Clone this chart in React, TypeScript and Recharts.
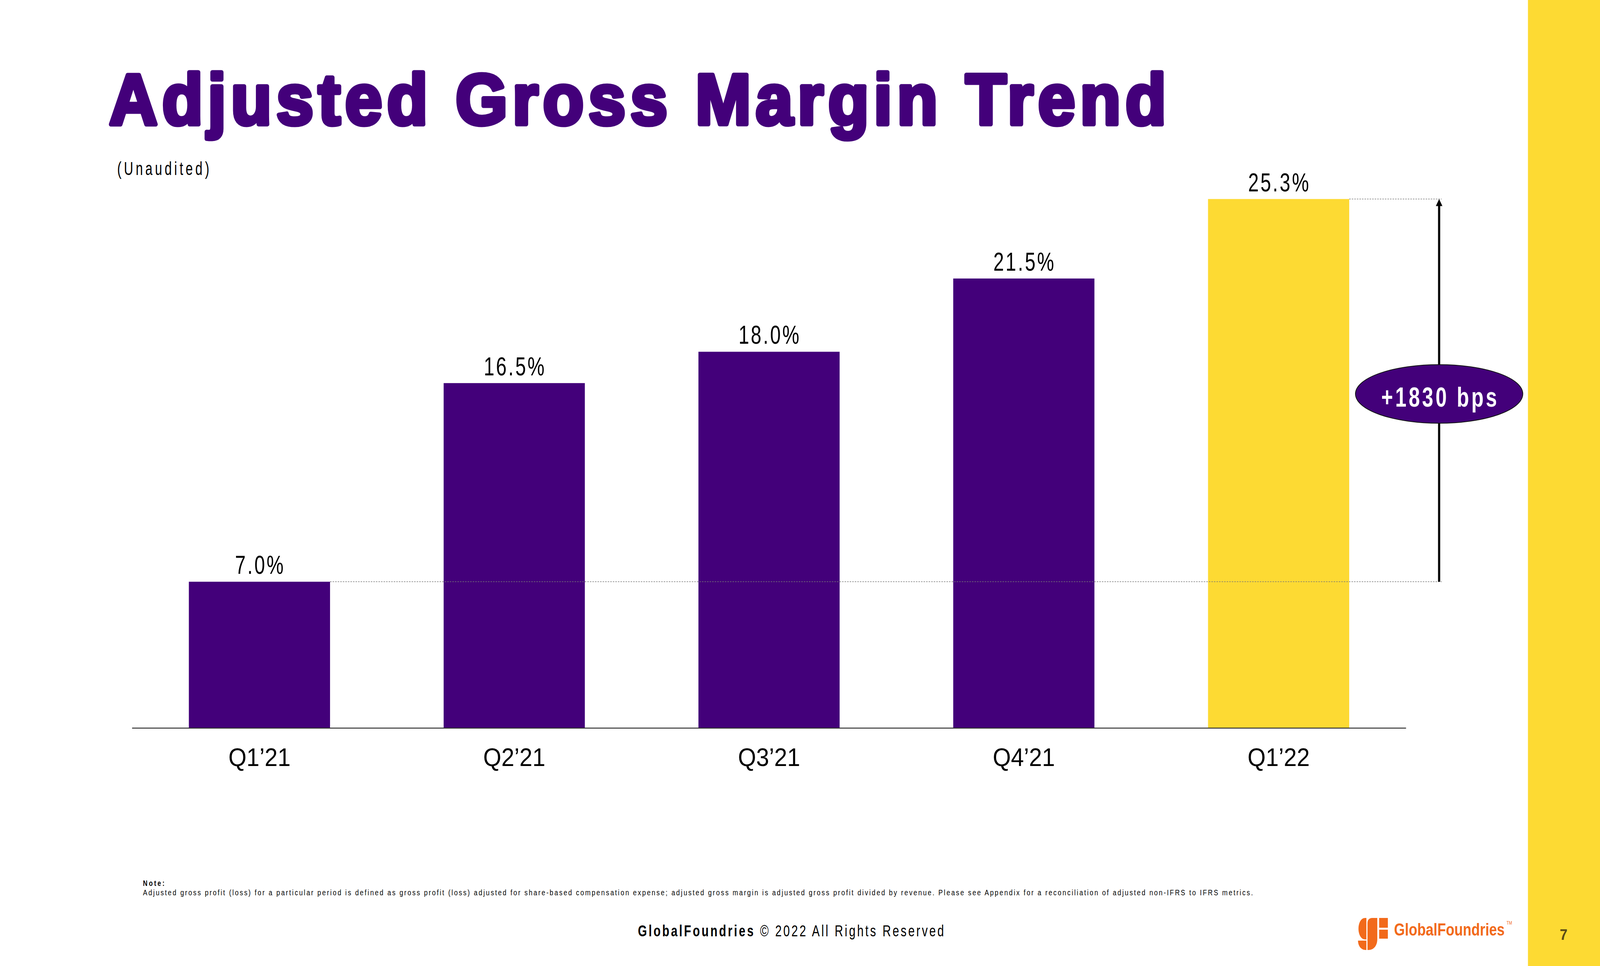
import { Bar, BarChart, Cell, LabelList, ReferenceLine, XAxis, YAxis } from "recharts";

const quarters = ["Q1’21", "Q2’21", "Q3’21", "Q4’21", "Q1’22"];
const grossMargin = [7.0, 16.5, 18.0, 21.5, 25.3];
const highlight = [false, false, false, false, true];
const changeLabel = "+1830 bps";

const data = quarters.map((quarter, i) => ({ quarter, margin: grossMargin[i] }));

const W = 4397;
const H = 2473;
const PURPLE = "#43007a";
const YELLOW = "#fdda33";
const ORANGE = "#f26a1b";
const FONT = "'Liberation Sans', Arial, sans-serif";
const BAR = 388;
const ARROW_DX = 441; // arrow sits this far right of the last bar's centre

// condensed, letter-spaced text (the slide uses a narrow face)
function CondText({ x, y, width, sx = 0.78, anchor = "start", children, ...rest }: any) {
  return (
    <text
      transform={`translate(${x} ${y}) scale(${sx} 1)`}
      textAnchor={anchor}
      textLength={width / sx}
      lengthAdjust="spacing"
      fontFamily={FONT}
      {...rest}
    >
      {children}
    </text>
  );
}

function ValueLabel(props: any) {
  const { x, y, width, value } = props;
  const cx = Number(x) + Number(width) / 2;
  return (
    <text
      transform={`translate(${cx + 2} ${Number(y) - 20}) scale(0.78 1)`}
      textAnchor="middle"
      fontSize={67}
      fontFamily={FONT}
      fill="#000"
      letterSpacing={6}
    >
      {Number(value).toFixed(1)}%
    </text>
  );
}

function QuarterTick(props: any) {
  const { x, y, payload } = props;
  return (
    <text x={x} y={y} dy={97} textAnchor="middle" fontSize={64} fontFamily={FONT} fill="#000">
      {payload.value}
    </text>
  );
}

function BaseLine(props: any) {
  const { x1, x2, y1 } = props;
  return (
    <line
      x1={x1 + BAR / 2}
      x2={x2 + ARROW_DX + 7}
      y1={y1}
      y2={y1}
      stroke="#777"
      strokeWidth={1.5}
      strokeDasharray="4 3"
    />
  );
}

function ChangeArrow(props: any) {
  const { x1, y1, y2 } = props;
  const ax = x1 + ARROW_DX;
  const mid = (y1 + y2) / 2 + 9;
  return (
    <g>
      <line x1={x1 + BAR / 2} x2={ax + 7} y1={y2} y2={y2} stroke="#777" strokeWidth={1.5} strokeDasharray="4 3" />
      <line x1={ax} x2={ax} y1={y1} y2={y2 + 16} stroke="#000" strokeWidth={6} />
      <polygon points={`${ax - 9},${y2 + 18} ${ax + 9},${y2 + 18} ${ax},${y2}`} fill="#000" />
      <ellipse cx={ax} cy={mid} rx={230} ry={75} fill={PURPLE} stroke="#111" strokeWidth={2} />
      <CondText x={ax} y={mid + 33} width={318} anchor="middle" fontSize={71} fontWeight={700} fill="#fff">
        {changeLabel}
      </CondText>
    </g>
  );
}

export default function App() {
  const vw = typeof window !== "undefined" ? window.innerWidth : W;
  const vh = typeof window !== "undefined" ? window.innerHeight : H;
  const sx = vw / W || 1;
  const sy = vh / H || 1;

  return (
    <div
      style={{
        position: "fixed",
        left: 0,
        top: 0,
        width: W,
        height: H,
        background: "#fff",
        overflow: "hidden",
        transform: `scale(${sx}, ${sy})`,
        transformOrigin: "0 0",
      }}
    >
      <div style={{ position: "absolute", left: 4199, top: 0, width: W - 4199, height: H, background: YELLOW }} />
      <div style={{ position: "absolute", left: 0, top: 0 }}>
        <BarChart width={W} height={H} data={data} margin={{ top: 258, right: 533, bottom: 459, left: 363 }}>
          <XAxis
            dataKey="quarter"
            height={150}
            axisLine={{ stroke: "#333", strokeWidth: 2.5 }}
            tickLine={false}
            tickSize={0}
            tickMargin={0}
            interval={0}
            tick={(p: any) => <QuarterTick {...p} />}
          />
          <YAxis hide domain={[0, 30]} />
          <Bar dataKey="margin" barSize={BAR} isAnimationActive={false}>
            {data.map((d, i) => (
              <Cell key={d.quarter} fill={highlight[i] ? YELLOW : PURPLE} />
            ))}
            <LabelList dataKey="margin" position="top" content={(p: any) => <ValueLabel {...p} />} />
          </Bar>
          <ReferenceLine
            segment={[
              { x: quarters[0], y: grossMargin[0] },
              { x: quarters[4], y: grossMargin[0] },
            ]}
            ifOverflow="visible"
            shape={(p: any) => <BaseLine {...p} />}
          />
          <ReferenceLine
            segment={[
              { x: quarters[4], y: grossMargin[0] },
              { x: quarters[4], y: grossMargin[4] },
            ]}
            ifOverflow="visible"
            shape={(p: any) => <ChangeArrow {...p} />}
          />
        </BarChart>
      </div>

      <svg width={W} height={H} style={{ position: "absolute", left: 0, top: 0, pointerEvents: "none" }}>
        <text
          x={300}
          y={318}
          fontSize={184}
          fontWeight={700}
          fontFamily={FONT}
          fill={PURPLE}
          stroke={PURPLE}
          strokeWidth={11}
          strokeLinejoin="round"
          textLength={2905}
          lengthAdjust="spacing"
        >
          Adjusted Gross Margin Trend
        </text>
        <CondText x={322} y={448} width={253} sx={0.72} fontSize={49} fill="#000">
          (Unaudited)
        </CondText>

        <CondText x={393} y={2268} width={59} sx={0.85} fontSize={20} fontWeight={700} fill="#000">
          Note:
        </CondText>
        <CondText x={393} y={2292} width={3050} sx={0.85} fontSize={21} fill="#000">
          Adjusted gross profit (loss) for a particular period is defined as gross profit (loss) adjusted for share-based compensation expense; adjusted gross margin is adjusted gross profit divided by revenue. Please see Appendix for a reconciliation of adjusted non-IFRS to IFRS metrics.
        </CondText>

        <CondText x={1753} y={2397} width={841} sx={0.8} fontSize={40} fill="#000">
          <tspan fontWeight={700}>GlobalFoundries</tspan>
          <tspan> © 2022 All Rights Reserved</tspan>
        </CondText>

        <g fill={ORANGE}>
          <path d="M3755 2350 L3755 2405 L3752 2405 C3727 2405 3727 2350 3752 2350 Z" />
          <path d="M3732 2408 L3755 2408 L3755 2432 L3753 2432 C3740 2432 3732 2421 3732 2408 Z" />
          <path d="M3771 2350 L3785 2350 L3785 2404 C3785 2421 3775 2432 3761 2432 L3758 2432 L3758 2363 C3758 2355 3763 2350 3771 2350 Z" />
          <rect x={3790} y={2350} width={24} height={25} />
          <rect x={3790} y={2380} width={24} height={23} />
        </g>
        <text
          transform="translate(3831 2395) scale(0.87 1)"
          fontSize={44}
          fontWeight={700}
          fontFamily={FONT}
          fill={ORANGE}
        >
          GlobalFoundries
          <tspan fontSize={12} fontWeight={400} dx={6} dy={-28}>
            TM
          </tspan>
        </text>
        <text x={4297} y={2406} fontSize={38} fontWeight={700} fontFamily={FONT} fill="#5b4b16" textAnchor="middle">
          7
        </text>
      </svg>
    </div>
  );
}
